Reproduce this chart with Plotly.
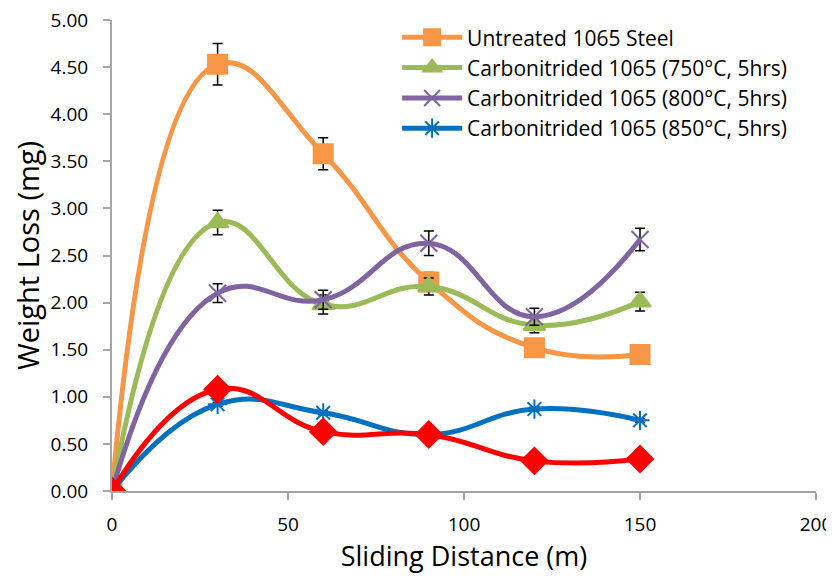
import plotly.graph_objects as go

distance = [0, 30, 60, 90, 120, 150]

untreated = [0, 4.53, 3.58, 2.22, 1.52, 1.45]
untreated_err = [0, 0.22, 0.17, 0.10, 0.05, 0.05]

c750 = [0, 2.85, 1.98, 2.17, 1.76, 2.01]
c750_err = [0, 0.13, 0.10, 0.09, 0.08, 0.10]

c800 = [0, 2.10, 2.03, 2.63, 1.85, 2.67]
c800_err = [0, 0.10, 0.10, 0.13, 0.09, 0.12]

c850 = [0, 0.92, 0.83, 0.60, 0.87, 0.75]
c850_err = [0, 0.02, 0.02, 0.02, 0.02, 0.02]

other = [0, 1.08, 0.63, 0.60, 0.32, 0.34]

series = [
    ("Untreated 1065 Steel", untreated, untreated_err, "#F79646", "square", 19, True),
    ("Carbonitrided 1065 (750°C, 5hrs)", c750, c750_err, "#9BBB59", "triangle-up", 19, True),
    ("Carbonitrided 1065 (800°C, 5hrs)", c800, c800_err, "#8064A2", "x-thin-open", 17, True),
    ("Carbonitrided 1065 (850°C, 5hrs)", c850, c850_err, "#0070C0", "asterisk-open", 16, True),
    ("Series 5", other, None, "#FF0000", "diamond", 20, False),
]

fig = go.Figure()
for name, ys, err, color, sym, size, show in series:
    fig.add_trace(go.Scatter(
        x=distance, y=ys, name=name, mode="lines+markers",
        line=dict(color=color, width=5, shape="spline", smoothing=1.3),
        marker=dict(symbol=sym, size=size, color=color,
                    line=dict(color=color, width=2)),
        error_y=dict(type="data", array=err, visible=err is not None,
                     color="black", thickness=1.5, width=5),
        showlegend=show,
    ))

axis_common = dict(
    showline=True, linecolor="#A6A6A6", linewidth=2,
    ticks="outside", tickcolor="#A6A6A6", ticklen=7, tickwidth=2,
    showgrid=False, zeroline=False, automargin=False,
    ticklabeloverflow="allow",
    tickfont=dict(size=19, color="#000000", family="Open Sans"),
)

# the page body has an 8px default margin, so the figure is drawn 8px in
fig.update_layout(
    width=826, height=571,
    margin=dict(l=104, r=18, t=9, b=88),
    plot_bgcolor="white", paper_bgcolor="white",
    font=dict(family="Open Sans", color="#000000"),
    xaxis=dict(range=[0, 200], dtick=50, ticklabelstandoff=8,
               title=dict(text="Sliding Distance (m)", font=dict(size=27), standoff=11),
               **axis_common),
    yaxis=dict(range=[0, 5], dtick=0.5, tickformat=".2f", ticklabelstandoff=11,
               title=dict(text="Weight Loss (mg)", font=dict(size=29), standoff=11),
               **axis_common),
    legend=dict(x=0.405, y=1.006, xanchor="left", yanchor="top",
                font=dict(size=21), bgcolor="rgba(0,0,0,0)",
                tracegroupgap=0, itemwidth=60),
)

fig.write_html("out.html")
